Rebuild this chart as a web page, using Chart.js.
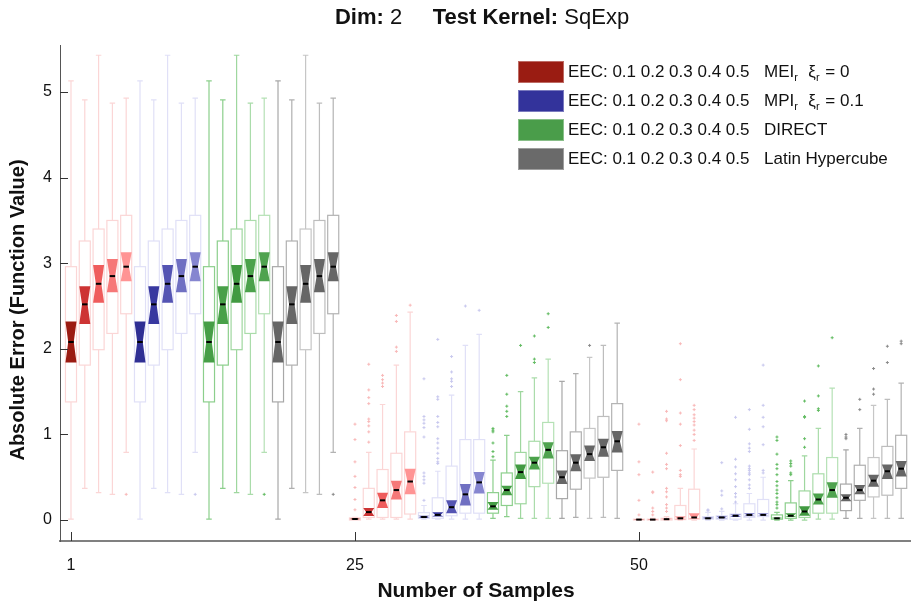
<!DOCTYPE html>
<html>
<head>
<meta charset="utf-8">
<script src="https://cdn.jsdelivr.net/npm/chart.js@4/dist/chart.umd.min.js"></script>
<style>
  html, body { margin: 0; padding: 0; background: #fff; overflow: hidden; }
  #wrap { width: 911px; height: 605px; }
  canvas { display: block; }
</style>
</head>
<body>
<div id="wrap"><canvas id="boxChart" width="911" height="605"></canvas></div>
<script>
// sample groups on the x axis and the five EEC settings per method
const sampleLabels = ["1", "25", "50"];
const eecLevels = ["0.1", "0.2", "0.3", "0.4", "0.5"];
const methodNames = ["MEI", "MPI", "DIRECT", "Latin Hypercube"];

// each row: [whiskerLow, q1, notchLow, median, notchHigh, q3, whiskerHigh]
// after 1 sample every method has the same design
const stats1 = [
  [0.01, 1.38, 1.84, 2.08, 2.32, 2.96, 5.13],
  [0.37, 1.81, 2.29, 2.52, 2.73, 3.26, 4.91],
  [0.32, 1.99, 2.54, 2.76, 2.98, 3.40, 5.43],
  [0.30, 2.18, 2.66, 2.85, 3.05, 3.50, 4.87],
  [0.79, 2.41, 2.79, 2.96, 3.13, 3.56, 4.93],
];
const outliers1 = [[], [], [], [], [0.30]];

const meiStats25 = [
  [0.01, 0.00, 0.005, 0.012, 0.02, 0.025, 0.03],
  [0.01, 0.03, 0.047, 0.093, 0.14, 0.37, 0.79],
  [0.01, 0.03, 0.14, 0.23, 0.32, 0.59, 1.35],
  [0.01, 0.03, 0.24, 0.35, 0.46, 0.78, 1.81],
  [0.01, 0.07, 0.30, 0.45, 0.60, 1.03, 2.43],
];
const meiOutliers25 = [
  [1.12, 0.94, 0.68, 0.51, 0.38, 0.24, 0.12],
  [1.82, 1.52, 1.43, 1.36, 1.18, 1.15, 1.10, 1.03, 0.91],
  [1.69, 1.64, 1.60, 1.56],
  [2.39, 2.32, 2.02, 1.97],
  [2.51],
];
const mpiStats25 = [
  [0.01, 0.02, 0.025, 0.035, 0.05, 0.086, 0.17],
  [0.01, 0.02, 0.04, 0.06, 0.09, 0.26, 0.57],
  [0.01, 0.05, 0.08, 0.15, 0.23, 0.63, 1.46],
  [0.01, 0.08, 0.17, 0.30, 0.42, 0.94, 2.04],
  [0.01, 0.08, 0.31, 0.44, 0.56, 0.94, 2.17],
];
const mpiOutliers25 = [
  [1.65, 1.21, 1.17, 1.13, 1.08, 0.97, 0.55, 0.51, 0.47, 0.43, 0.23],
  [2.11, 1.44, 1.41, 1.21, 1.14, 1.09, 0.95, 0.90, 0.84, 0.78, 0.72, 0.68, 0.66],
  [1.91, 1.73, 1.65, 1.62, 1.56],
  [2.50],
  [2.45],
];
const directStats25 = [
  [0.02, 0.08, 0.12, 0.16, 0.21, 0.32, 0.70],
  [0.04, 0.17, 0.29, 0.35, 0.40, 0.55, 0.99],
  [0.02, 0.19, 0.48, 0.56, 0.65, 0.79, 1.50],
  [0.02, 0.39, 0.59, 0.67, 0.74, 0.92, 1.66],
  [0.02, 0.43, 0.72, 0.82, 0.91, 1.14, 1.88],
];
const directOutliers25 = [
  [1.07, 1.05, 1.03, 0.90, 0.80, 0.74],
  [1.69, 1.47, 1.33, 1.27, 1.21],
  [2.04],
  [2.15, 1.88, 1.84],
  [2.41, 2.25],
];
const lhsStats25 = [
  [0.02, 0.25, 0.42, 0.50, 0.58, 0.81, 1.62],
  [0.03, 0.36, 0.57, 0.67, 0.77, 1.03, 1.71],
  [0.02, 0.49, 0.69, 0.77, 0.87, 1.07, 1.90],
  [0.03, 0.50, 0.74, 0.85, 0.95, 1.21, 2.04],
  [0.02, 0.58, 0.79, 0.92, 1.04, 1.36, 2.30],
];
const lhsOutliers25 = [[], [], [2.04], [], []];

const meiStats50 = [
  [0.00, 0.00, 0.002, 0.005, 0.008, 0.01, 0.01],
  [0.00, 0.00, 0.002, 0.005, 0.008, 0.01, 0.02],
  [0.00, 0.00, 0.005, 0.01, 0.015, 0.02, 0.04],
  [0.00, 0.005, 0.01, 0.02, 0.04, 0.17, 0.37],
  [0.00, 0.01, 0.015, 0.03, 0.08, 0.36, 0.83],
];
const meiOutliers50 = [
  [1.12, 0.68, 0.53, 0.23, 0.06],
  [0.56, 0.33, 0.32, 0.14, 0.10, 0.06],
  [1.27, 1.18, 1.16, 0.78, 0.65, 0.60, 0.37, 0.33, 0.27, 0.18, 0.14, 0.10],
  [2.06, 1.64, 1.25, 1.12, 0.87, 0.58, 0.53, 0.51],
  [1.34, 1.29, 1.23, 1.19, 1.15, 1.11, 1.05, 1.00, 0.93],
];
const mpiStats50 = [
  [0.00, 0.01, 0.015, 0.02, 0.03, 0.04, 0.09],
  [0.00, 0.01, 0.02, 0.03, 0.04, 0.05, 0.10],
  [0.00, 0.01, 0.035, 0.05, 0.065, 0.07, 0.19],
  [0.00, 0.03, 0.045, 0.06, 0.08, 0.19, 0.31],
  [0.00, 0.04, 0.05, 0.06, 0.08, 0.24, 0.50],
];
const mpiOutliers50 = [
  [0.12, 0.11],
  [0.67, 0.34, 0.29, 0.13],
  [1.20, 0.71, 0.62, 0.54, 0.47, 0.39, 0.31, 0.27, 0.21],
  [1.29, 1.06, 0.89, 0.84, 0.80, 0.63, 0.60, 0.58, 0.55, 0.53, 0.47, 0.41, 0.37],
  [1.81, 1.34, 1.20, 1.09, 0.88, 0.58, 0.55],
];
const directStats50 = [
  [0.00, 0.01, 0.015, 0.02, 0.03, 0.06, 0.09],
  [0.00, 0.02, 0.035, 0.05, 0.08, 0.20, 0.46],
  [0.00, 0.03, 0.05, 0.10, 0.16, 0.34, 0.75],
  [0.01, 0.08, 0.18, 0.24, 0.31, 0.54, 1.07],
  [0.01, 0.08, 0.26, 0.35, 0.44, 0.73, 1.54],
];
const directOutliers50 = [
  [0.97, 0.93, 0.77, 0.65, 0.60, 0.53, 0.45, 0.40, 0.35, 0.31, 0.26, 0.21, 0.18, 0.14],
  [0.69, 0.66, 0.63, 0.55, 0.53],
  [1.39, 1.21, 1.20, 0.95, 0.85],
  [1.80, 1.45, 1.30, 1.28],
  [2.13],
];
const lhsStats50 = [
  [0.02, 0.11, 0.22, 0.26, 0.30, 0.42, 0.82],
  [0.02, 0.23, 0.30, 0.35, 0.41, 0.64, 1.07],
  [0.02, 0.27, 0.39, 0.46, 0.53, 0.73, 1.34],
  [0.02, 0.29, 0.48, 0.57, 0.65, 0.86, 1.41],
  [0.02, 0.37, 0.51, 0.60, 0.69, 0.99, 1.60],
];
const lhsOutliers50 = [
  [1.00, 0.97, 0.95],
  [1.41, 1.29],
  [1.77, 1.53, 1.47],
  [2.03, 1.84],
  [2.09, 2.06],
];

const yTickValues = [0, 1, 2, 3, 4, 5];

// per method: [1 sample, 25 samples, 50 samples]
const methodStats = [
  [stats1, meiStats25, meiStats50],
  [stats1, mpiStats25, mpiStats50],
  [stats1, directStats25, directStats50],
  [stats1, lhsStats25, lhsStats50],
];
const methodOutliers = [
  [outliers1, meiOutliers25, meiOutliers50],
  [outliers1, mpiOutliers25, mpiOutliers50],
  [outliers1, directOutliers25, directOutliers50],
  [outliers1, lhsOutliers25, lhsOutliers50],
];

// colours (notch fill per EEC level, box outline per EEC level)
const fillColors = [
  ["#9b1b12", "#cd3434", "#ef5c5c", "#f67878", "#ff9494"],
  ["#2f2f94", "#3838a0", "#5454b3", "#7070c2", "#8686d0"],
  ["#469e46", "#48a048", "#419a41", "#4ba24b", "#4fa34f"],
  ["#666666", "#676767", "#666666", "#666666", "#666666"],
];
const lineColors = [
  ["#fbd6d6", "#fbd6d6", "#fbd6d6", "#fbd6d6", "#fbd6d6"],
  ["#e0e0f7", "#e0e0f7", "#e0e0f7", "#e0e0f7", "#e0e0f7"],
  ["#8ccf8c", "#8ccf8c", "#9fd79f", "#aadcaa", "#b5e1b5"],
  ["#a8a8a8", "#b0b0b0", "#c6c6c6", "#bdbdbd", "#b3b3b3"],
];
const outlierColors = ["#f8b8b8", "#c8c8ee", "#62bb62", "#8a8a8a"];
const legendColors = ["#9a1c12", "#33339b", "#4a9d4a", "#6a6a6a"];

const BOX_STEP = 0.0486;
const BOX_HALF = 0.4 * BOX_STEP;
const FONT = "'Liberation Sans', Arial, Helvetica, sans-serif";

function boxPos(g, m, e) {
  return g + (m * 5 + e) * BOX_STEP;
}

// outlier points as scatter datasets
const outlierSets = methodNames.map((name, m) => {
  const pts = [];
  methodOutliers[m].forEach((grp, g) => {
    grp.forEach((vals, e) => {
      vals.forEach((v) => pts.push({ x: boxPos(g, m, e), y: v }));
    });
  });
  return {
    label: name,
    data: pts,
    pointStyle: "cross",
    pointRadius: 1.5,
    borderWidth: 1,
    borderColor: outlierColors[m],
    backgroundColor: outlierColors[m],
  };
});

const boxPlugin = {
  id: "boxes",
  beforeDatasetsDraw(chart) {
    const { ctx } = chart;
    const x = chart.scales.x;
    const y = chart.scales.y;
    ctx.save();
    methodStats.forEach((groups, m) => {
      groups.forEach((rows, g) => {
        rows.forEach((row, e) => {
          const pos = boxPos(g, m, e);
          const cx = x.getPixelForValue(pos);
          const hw = x.getPixelForValue(pos + BOX_HALF) - cx;
          const [wLo, q1, nLo, med, nHi, q3, wHi] = row.map((v) => y.getPixelForValue(v));
          ctx.strokeStyle = lineColors[m][e];
          ctx.lineWidth = 1.2;
          ctx.beginPath();
          ctx.moveTo(cx, wHi); ctx.lineTo(cx, q3);
          ctx.moveTo(cx, q1); ctx.lineTo(cx, wLo);
          ctx.moveTo(cx - hw / 2, wHi); ctx.lineTo(cx + hw / 2, wHi);
          ctx.moveTo(cx - hw / 2, wLo); ctx.lineTo(cx + hw / 2, wLo);
          ctx.stroke();
          ctx.fillStyle = "#ffffff";
          ctx.fillRect(cx - hw, q3, 2 * hw, q1 - q3);
          ctx.strokeRect(cx - hw, q3, 2 * hw, q1 - q3);
          // notch
          ctx.fillStyle = fillColors[m][e];
          ctx.beginPath();
          ctx.moveTo(cx - hw, nHi);
          ctx.lineTo(cx + hw, nHi);
          ctx.lineTo(cx + hw / 2, med);
          ctx.lineTo(cx + hw, nLo);
          ctx.lineTo(cx - hw, nLo);
          ctx.lineTo(cx - hw / 2, med);
          ctx.closePath();
          ctx.fill();
          // median
          ctx.strokeStyle = "#000000";
          ctx.lineWidth = 2;
          ctx.beginPath();
          ctx.moveTo(cx - hw / 2, med);
          ctx.lineTo(cx + hw / 2, med);
          ctx.stroke();
        });
      });
    });
    ctx.restore();
  },
  afterDraw(chart) {
    const { ctx, chartArea } = chart;
    const x = chart.scales.x;
    const y = chart.scales.y;
    ctx.save();
    // inward tick marks
    ctx.strokeStyle = "#333333";
    ctx.lineWidth = 1;
    ctx.beginPath();
    yTickValues.forEach((v) => {
      const py = Math.round(y.getPixelForValue(v)) + 0.5;
      ctx.moveTo(chartArea.left, py);
      ctx.lineTo(chartArea.left + 8, py);
    });
    sampleLabels.forEach((s, g) => {
      const px = Math.round(x.getPixelForValue(g)) + 0.5;
      ctx.moveTo(px, chartArea.bottom);
      ctx.lineTo(px, chartArea.bottom - 9);
    });
    ctx.stroke();

    // title with mixed weights
    const parts = [
      { t: "Dim:", b: true },
      { t: " 2", b: false },
      { t: "     Test Kernel:", b: true },
      { t: " SqExp", b: false },
    ];
    ctx.fillStyle = "#111111";
    ctx.textBaseline = "middle";
    ctx.textAlign = "left";
    let total = 0;
    parts.forEach((p) => {
      ctx.font = (p.b ? "bold " : "") + "22px " + FONT;
      p.w = ctx.measureText(p.t).width;
      total += p.w;
    });
    let tx = 482 - total / 2;
    parts.forEach((p) => {
      ctx.font = (p.b ? "bold " : "") + "22px " + FONT;
      ctx.fillText(p.t, tx, 18);
      tx += p.w;
    });

    // axis titles
    ctx.font = "bold 21px " + FONT;
    ctx.textAlign = "center";
    ctx.fillText("Number of Samples", 476, 591);
    ctx.font = "bold 20px " + FONT;
    ctx.save();
    ctx.translate(18, 310);
    ctx.rotate(-Math.PI / 2);
    ctx.fillText("Absolute Error (Function Value)", 0, 0);
    ctx.restore();

    // legend
    const legendRows = [
      [{ t: "MEI" }, { t: "r", sub: true }, { t: "  \u03be" }, { t: "r", sub: true }, { t: " = 0" }],
      [{ t: "MPI" }, { t: "r", sub: true }, { t: "  \u03be" }, { t: "r", sub: true }, { t: " = 0.1" }],
      [{ t: "DIRECT" }],
      [{ t: "Latin Hypercube" }],
    ];
    ctx.textAlign = "left";
    legendRows.forEach((segs, i) => {
      const top = 61 + i * 29;
      ctx.fillStyle = legendColors[i];
      ctx.fillRect(518, top, 46, 22);
      ctx.strokeStyle = "rgba(255,255,255,0.35)";
      ctx.lineWidth = 1;
      ctx.strokeRect(518.5, top + 0.5, 45, 21);
      ctx.fillStyle = "#111111";
      ctx.font = "17px " + FONT;
      const mid = top + 11;
      ctx.fillText("EEC: " + eecLevels.join(" "), 568, mid);
      let lx = 764;
      segs.forEach((s) => {
        ctx.font = (s.sub ? "11px " : "17px ") + FONT;
        ctx.fillText(s.t, lx, s.sub ? mid + 6 : mid);
        lx += ctx.measureText(s.t).width + (s.sub ? 1 : 0);
      });
    });
    ctx.restore();
  },
};

const chart = new Chart(document.getElementById("boxChart"), {
  type: "scatter",
  data: { datasets: outlierSets },
  options: {
    responsive: false,
    animation: false,
    layout: { autoPadding: false, padding: { top: 45, right: 0, left: 0, bottom: 0 } },
    plugins: {
      legend: { display: false },
      tooltip: { enabled: false },
    },
    scales: {
      x: {
        type: "linear",
        min: -0.0387,
        max: 2.958,
        afterFit: (s) => { s.height = 64; },
        afterBuildTicks: (s) => { s.ticks = sampleLabels.map((l, i) => ({ value: i })); },
        ticks: {
          callback: (v, i) => sampleLabels[i],
          font: { family: FONT, size: 16 },
          color: "#111111",
          padding: 15,
          maxRotation: 0,
          autoSkip: false,
        },
        grid: { display: false, drawTicks: false },
        border: { display: true, color: "#808080", width: 2 },
      },
      y: {
        min: -0.245,
        max: 5.55,
        afterFit: (s) => { s.width = 60; },
        afterBuildTicks: (s) => { s.ticks = yTickValues.map((v) => ({ value: v })); },
        ticks: {
          font: { family: FONT, size: 16 },
          color: "#111111",
          padding: 8,
        },
        grid: { display: false, drawTicks: false },
        border: { display: true, color: "#555555", width: 1 },
      },
    },
  },
  plugins: [boxPlugin],
});
</script>
</body>
</html>
